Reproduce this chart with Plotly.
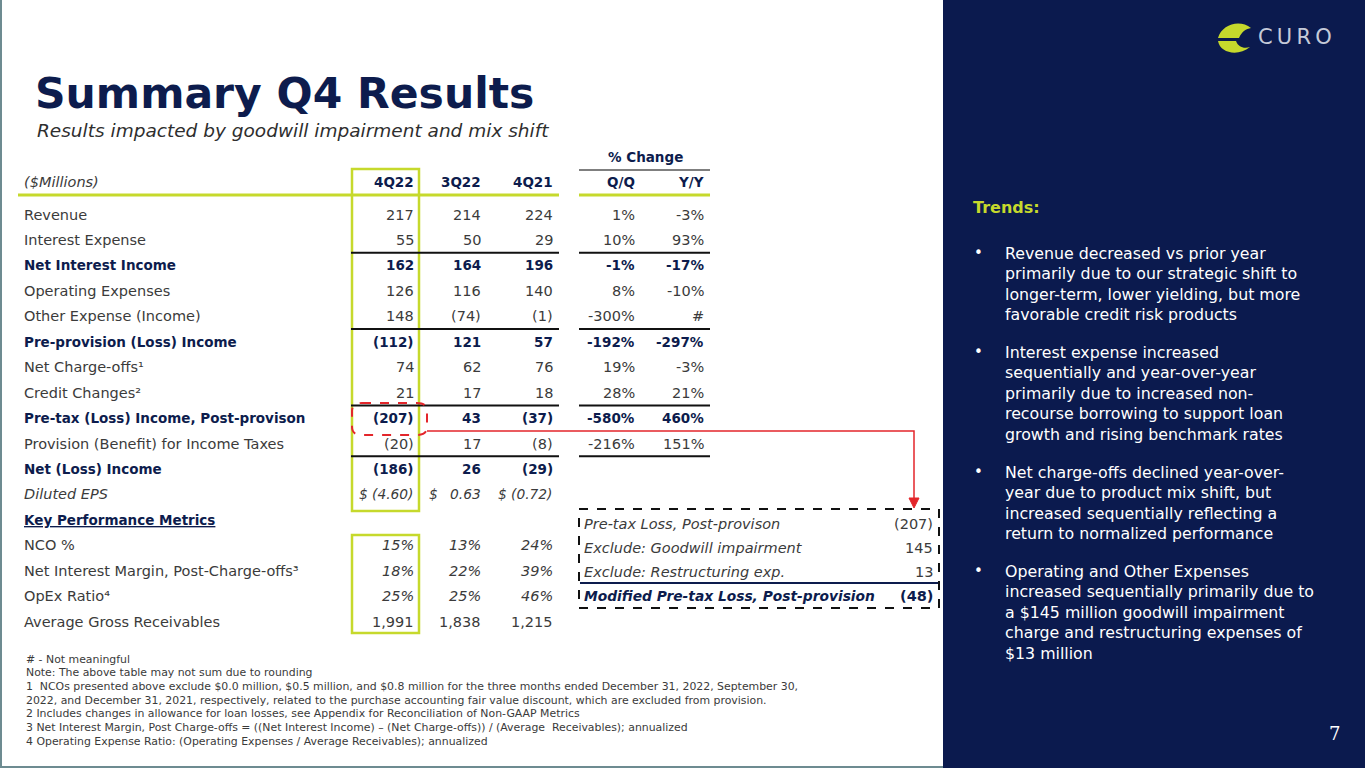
import plotly.graph_objects as go

# slide size in px, axes are set up in px so everything sits on the same scale
W, H = 1365, 768

NAVY = "#0d1c4d"
GRAY = "#3b3b3b"
LIME = "#c6d92c"
RED = "#e3262b"
PANEL = "#0b1a4e"
FONT = "DejaVu Sans"

# ---- table data ----
columns = ["4Q22", "3Q22", "4Q21", "Q/Q", "Y/Y"]
row_labels = [
    "Revenue",
    "Interest Expense",
    "Net Interest Income",
    "Operating Expenses",
    "Other Expense (Income)",
    "Pre-provision (Loss) Income",
    "Net Charge-offs\u00b9",
    "Credit Changes\u00b2",
    "Pre-tax (Loss) Income, Post-provison",
    "Provision (Benefit) for Income Taxes",
    "Net (Loss) Income",
    "Diluted EPS",
    "Key Performance Metrics",
    "NCO %",
    "Net Interest Margin, Post-Charge-offs\u00b3",
    "OpEx Ratio\u2074",
    "Average Gross Receivables",
]
q4_22 = ["217", "55", "162", "126", "148", "(112)", "74", "21", "(207)", "(20)", "(186)", "(4.60)", "",
         "15%", "18%", "25%", "1,991"]
q3_22 = ["214", "50", "164", "116", "(74)", "121", "62", "17", "43", "17", "26", "0.63", "",
         "13%", "22%", "25%", "1,838"]
q4_21 = ["224", "29", "196", "140", "(1)", "57", "76", "18", "(37)", "(8)", "(29)", "(0.72)", "",
         "24%", "39%", "46%", "1,215"]
chg_qq = ["1%", "10%", "-1%", "8%", "-300%", "-192%", "19%", "28%", "-580%", "-216%", "", "", "",
          "", "", "", ""]
chg_yy = ["-3%", "93%", "-17%", "-10%", "#", "-297%", "-3%", "21%", "460%", "151%", "", "", "",
          "", "", "", ""]

bold_rows = [2, 5, 8, 10]
italic_rows = [11, 13, 14, 15]
eps_row = 11
kpm_row = 12
rule_after = [1, 4, 7, 9]

# reconciliation box
box_labels = ["Pre-tax Loss, Post-provison", "Exclude: Goodwill impairment",
              "Exclude: Restructuring exp.", "Modified Pre-tax Loss, Post-provision"]
box_values = ["(207)", "145", "13", "(48)"]

footnotes = [
    "# - Not meaningful",
    "Note: The above table may not sum due to rounding",
    "1  NCOs presented above exclude $0.0 million, $0.5 million, and $0.8 million for the three months ended December 31, 2022, September 30,",
    "2022, and December 31, 2021, respectively, related to the purchase accounting fair value discount, which are excluded from provision.",
    "2 Includes changes in allowance for loan losses, see Appendix for Reconciliation of Non-GAAP Metrics",
    "3 Net Interest Margin, Post Charge-offs = ((Net Interest Income) \u2013 (Net Charge-offs)) / (Average  Receivables); annualized",
    "4 Operating Expense Ratio: (Operating Expenses / Average Receivables); annualized",
]

trends = [
    ["Revenue decreased vs prior year", "primarily due to our strategic shift to",
     "longer-term, lower yielding, but more", "favorable credit risk products"],
    ["Interest expense increased", "sequentially and year-over-year",
     "primarily due to increased non-", "recourse borrowing to support loan",
     "growth and rising benchmark rates"],
    ["Net charge-offs declined year-over-", "year due to product mix shift, but",
     "increased sequentially reflecting a", "return to normalized performance"],
    ["Operating and Other Expenses", "increased sequentially primarily due to",
     "a $145 million goodwill impairment", "charge and restructuring expenses of",
     "$13 million"],
]

# ---- layout constants ----
LABEL_X = 22
COL_X = [416, 483, 555, 637, 706]
EPS_DOLLAR_X = [357, 427, 496]
ROW0, ROW_H = 214.5, 25.45
TREND_TOP = [253, 352, 472, 571]
TREND_LH = 20.5


def ry(i):
    return ROW0 + ROW_H * i


def txt(x, y, s, size=14, color=GRAY, anchor="left", bold=False, italic=False,
        family=FONT, yanchor="middle", **kw):
    font = dict(family=family, size=size, color=color,
                weight="bold" if bold else "normal",
                style="italic" if italic else "normal")
    font.update(kw.pop("font_extra", {}))
    return dict(x=x, y=y, xref="x", yref="y", text=s, showarrow=False,
                xanchor=anchor, yanchor=yanchor, font=font, **kw)


def line(x0, y0, x1, y1, color, width=2, dash="solid"):
    return dict(type="line", xref="x", yref="y", x0=x0, y0=y0, x1=x1, y1=y1,
                line=dict(color=color, width=width, dash=dash))


ann = []
shapes = []

# background pieces
shapes.append(dict(type="rect", xref="x", yref="y", x0=943, y0=0, x1=W, y1=H,
                   fillcolor=PANEL, line=dict(width=0), layer="below"))
shapes.append(line(1, 0, 1, H, "#6d8b91", 2))
shapes.append(line(0, H - 1, 943, H - 1, "#6d8b91", 2))

# title
ann.append(txt(33, 93, "Summary Q4 Results", size=42.5, color=NAVY, bold=True))
ann.append(txt(35, 130, "Results impacted by goodwill impairment and mix shift",
               size=18.5, color="#2e2e2e", italic=True))

# header
ann.append(txt(645, 157, "% Change", color=NAVY, bold=True, anchor="center", size=13.5))
shapes.append(line(579, 170, 710, 170, "#555555", 1.5))
ann.append(txt(LABEL_X, 182, "($Millions)", italic=True, size=14.5))
for cx, c in zip(COL_X, columns):
    ann.append(txt(cx, 182, c, color=NAVY, bold=True, anchor="right", size=13.5))
shapes.append(line(18, 195, 559, 195, LIME, 3))
shapes.append(line(579, 195, 710, 195, LIME, 3))

# highlight boxes on the 4Q22 column
shapes.append(dict(type="rect", xref="x", yref="y", x0=352, x1=419, y0=169, y1=511,
                   line=dict(color=LIME, width=2.5)))
shapes.append(dict(type="rect", xref="x", yref="y", x0=352, x1=419, y0=535, y1=633,
                   line=dict(color=LIME, width=2.5)))

# rows
value_cols = [q4_22, q3_22, q4_21, chg_qq, chg_yy]
for i, lab in enumerate(row_labels):
    y = ry(i)
    bold = i in bold_rows
    color = NAVY if bold else GRAY
    size = 13.5 if bold else 14.5
    if i == kpm_row:
        ann.append(txt(LABEL_X, y, lab, color=NAVY, bold=True, size=13.5,
                       font_extra=dict(lineposition="under")))
        continue
    ann.append(txt(LABEL_X, y, lab, color=color, bold=bold, size=size, italic=(i == eps_row)))
    for j, (cx, vals) in enumerate(zip(COL_X, value_cols)):
        v = vals[i]
        if not v:
            continue
        vsize = 13.8 if i == eps_row else size
        ann.append(txt(cx, y, v, color=color, bold=bold, anchor="right", size=vsize,
                       italic=(i in italic_rows)))
        if i == eps_row:
            ann.append(txt(EPS_DOLLAR_X[j], y, "$", italic=True, anchor="left", size=vsize))

for i in rule_after:
    y = ry(i) + ROW_H / 2
    shapes.append(line(351, y, 559, y, "#111111", 2))
    shapes.append(line(579, y, 710, y, "#111111", 2))

# red callout from the 4Q22 pre-tax loss to the reconciliation box
shapes.append(dict(type="path", xref="x", yref="y",
                   path="M 362,403 L 417,403 Q 427,403 427,411 L 427,427 Q 427,435 417,435 "
                        "L 362,435 Q 352,435 352,427 L 352,411 Q 352,403 362,403 Z",
                   line=dict(color=RED, width=2, dash="dash")))
shapes.append(dict(type="path", xref="x", yref="y", path="M 427,431 L 914,431 L 914,499",
                   line=dict(color=RED, width=1.5)))
shapes.append(dict(type="path", xref="x", yref="y", path="M 909,498 L 919,498 L 914,508 Z",
                   fillcolor=RED, line=dict(color=RED, width=1)))

# reconciliation box
shapes.append(dict(type="rect", xref="x", yref="y", x0=579, x1=939, y0=509, y1=608,
                   line=dict(color="#111111", width=2, dash="dash")))
shapes.append(line(580, 583, 938, 583, NAVY, 2))
BOX_Y = [524, 548, 572, 596]
for k, (lab, val) in enumerate(zip(box_labels, box_values)):
    last = k == len(box_labels) - 1
    c = NAVY if last else GRAY
    ann.append(txt(582, BOX_Y[k], lab, color=c, italic=True, bold=last,
                   size=13.8 if last else 14.5))
    ann.append(txt(935, BOX_Y[k], val, color=c, bold=last, anchor="right", size=14.5))

# footnotes
for k, f in enumerate(footnotes):
    ann.append(txt(24, 659 + 13.67 * k, f, size=10.9, color="#3a3a3a"))

# right panel
ann.append(txt(971, 207, "Trends:", size=16, color=LIME, bold=True))
for top, lines in zip(TREND_TOP, trends):
    ann.append(txt(972, top, "\u2022", size=15, color="white"))
    for k, s in enumerate(lines):
        ann.append(txt(1003, top + k * TREND_LH, s, size=15.8, color="white"))
ann.append(txt(1342, 733, "7", size=18, color="white", family="DejaVu Serif", anchor="right"))

# logo
ann.append(txt(1256, 37, "C\u2009U\u2009R\u2009O", size=21, color="#c5cad8"))
shapes.append(dict(type="path", xref="x", yref="y",
                   path="M 1251,28 C 1240,19 1222,24 1218,38 L 1239,38 C 1242,31 1246,29 1251,28 Z",
                   fillcolor=LIME, line=dict(width=0)))
shapes.append(dict(type="path", xref="x", yref="y",
                   path="M 1218,41 C 1220,53 1238,57 1250,47 C 1244,49 1238,47 1236,41 Z",
                   fillcolor=LIME, line=dict(width=0)))

fig = go.Figure()
fig.add_trace(go.Scatter(x=[0, W], y=[0, H], mode="markers",
                         marker=dict(opacity=0), hoverinfo="skip", showlegend=False))
fig.update_layout(
    width=W, height=H,
    margin=dict(l=0, r=0, t=0, b=0),
    paper_bgcolor="white", plot_bgcolor="white",
    xaxis=dict(range=[0, W], visible=False, fixedrange=True),
    yaxis=dict(range=[H, 0], visible=False, fixedrange=True),
    annotations=ann,
    shapes=shapes,
    showlegend=False,
)
# the page body has a default 8px margin; drop it so the slide fills the window
fig.write_html("out.html", post_script="document.body.style.margin='0';",
               config={"displayModeBar": False})
